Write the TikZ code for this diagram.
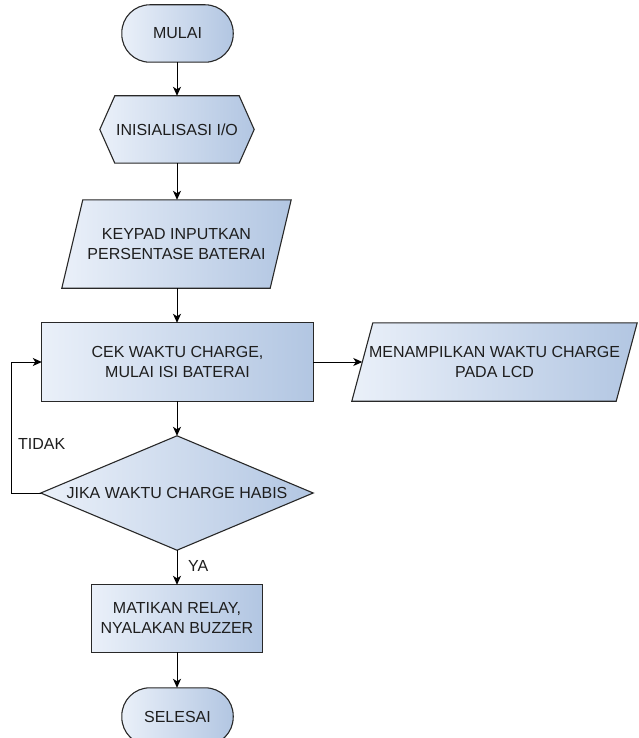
\documentclass[tikz,border=0pt]{standalone}
\usepackage{fontspec}
\setmainfont{Liberation Sans}
\usetikzlibrary{backgrounds,arrows.meta,calc}
\definecolor{gradL}{RGB}{234,240,249}
\definecolor{gradR}{RGB}{178,198,226}
\definecolor{edge}{RGB}{40,40,40}
\definecolor{txtc}{RGB}{30,30,30}
\tikzset{
  holder/.style={rectangle, inner sep=0pt, align=center, text=txtc,
    font=\fontsize{16}{20}\selectfont},
  shp/.style={draw=edge, line width=1.1pt, left color=gradL, right color=gradR},
  arr/.style={draw=black, line width=1pt, -{Stealth[length=9pt,width=8pt,inset=2.5pt]}},
  lbl/.style={inner sep=0pt, anchor=west, text=txtc, font=\fontsize{16}{20}\selectfont}
}
\begin{document}
\begin{tikzpicture}[x=1pt,y=-1pt]
\useasboundingbox (0,0) rectangle (638,738);

% text holders
\node[holder, minimum width=111, minimum height=57] (start) at (177.5,33.5) {MULAI};
\node[holder, minimum width=154, minimum height=67] (init) at (177,129.5) {INISIALISASI I/O};
\node[holder, minimum width=229, minimum height=88] (keypad) at (176.5,244) {KEYPAD INPUTKAN\\PERSENTASE BATERAI};
\node[holder, minimum width=271, minimum height=78] (cek) at (177.5,362) {CEK WAKTU CHARGE,\\MULAI ISI BATERAI};
\node[holder, minimum width=285, minimum height=78] (lcd) at (494.5,362) {MENAMPILKAN WAKTU CHARGE\\PADA LCD};
\node[holder, minimum width=272, minimum height=114] (cond) at (177,493) {JIKA WAKTU CHARGE HABIS};
\node[holder, minimum width=170, minimum height=67] (relay) at (177,618.5) {MATIKAN RELAY,\\NYALAKAN BUZZER};
\node[holder, minimum width=111, minimum height=57] (stop) at (177.5,716.5) {SELESAI};

\begin{pgfonlayer}{background}
  \fill[white] (0,0) rectangle (638,738);
  \path[shp, rounded corners=28pt] (start.north west) rectangle (start.south east);
  \path[shp] ([xshift=15pt]init.north west) -- ([xshift=-15pt]init.north east) -- (init.east)
     -- ([xshift=-15pt]init.south east) -- ([xshift=15pt]init.south west) -- (init.west) -- cycle;
  \path[shp] ([xshift=21pt]keypad.north west) -- (keypad.north east)
     -- ([xshift=-21pt]keypad.south east) -- (keypad.south west) -- cycle;
  \path[shp] (cek.north west) rectangle (cek.south east);
  \path[shp] ([xshift=21pt]lcd.north west) -- (lcd.north east)
     -- ([xshift=-21pt]lcd.south east) -- (lcd.south west) -- cycle;
  \path[shp] (cond.north) -- (cond.east) -- (cond.south) -- (cond.west) -- cycle;
  \path[shp] (relay.north west) rectangle (relay.south east);
  \path[shp, rounded corners=28pt] (stop.north west) rectangle (stop.south east);
\end{pgfonlayer}

% connectors
\coordinate (lcdin) at ([xshift=10.5pt]lcd.west);
\draw[arr] (start.south -| init.north) -- (init.north);
\draw[arr] (init.south) -- (init.south |- keypad.north);
\draw[arr] (init.south |- keypad.south) -- (init.south |- cek.north);
\draw[arr] (cek.east) -- (lcdin);
\draw[arr] (cond.north |- cek.south) -- (cond.north);
\draw[arr] (cond.west) -- ++(-29,0) |- (cek.west);
\draw[arr] (cond.south) -- (relay.north);
\draw[arr] (relay.south) -- (relay.south |- stop.north);

% labels
\node[lbl] (tidak) at (18,444) {TIDAK};
\node[lbl] (ya) at (188,566) {YA};
\end{tikzpicture}
\end{document}
